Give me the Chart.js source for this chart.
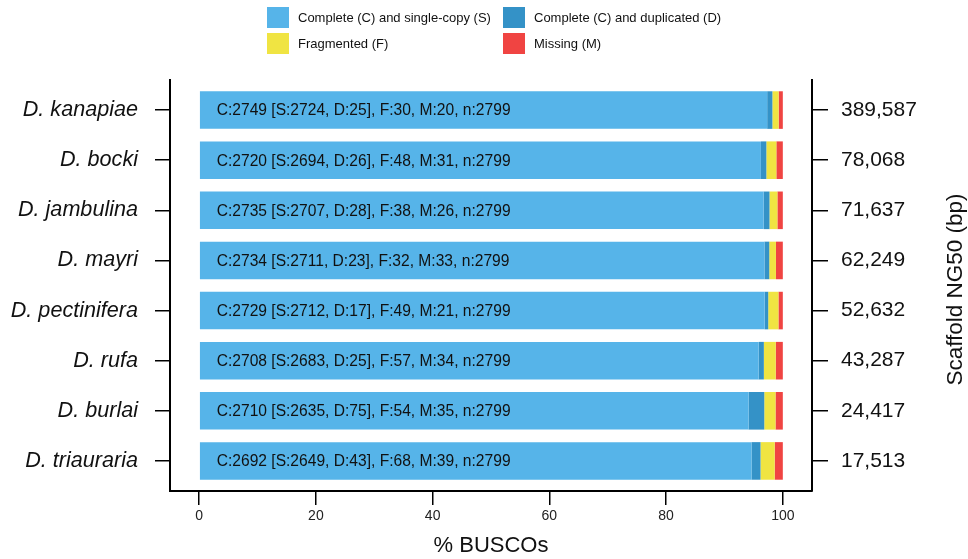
<!DOCTYPE html>
<html>
<head>
<meta charset="utf-8">
<script src="https://cdn.jsdelivr.net/npm/chart.js@4/dist/chart.umd.min.js"></script>
<style>
  html, body { margin: 0; padding: 0; background: #ffffff; }
  #wrap { width: 968px; height: 559px; position: relative; }
</style>
</head>
<body>
<div id="wrap"><canvas id="c" width="968" height="559"></canvas></div>
<script>
// ---- data ----
const species = ["D. kanapiae", "D. bocki", "D. jambulina", "D. mayri", "D. pectinifera", "D. rufa", "D. burlai", "D. triauraria"];
const ng50Labels = ["389,587", "78,068", "71,637", "62,249", "52,632", "43,287", "24,417", "17,513"];
const singleCopy = [2724, 2694, 2707, 2711, 2712, 2683, 2635, 2649];
const duplicated = [25, 26, 28, 23, 17, 25, 75, 43];
const fragmented = [30, 48, 38, 32, 49, 57, 54, 68];
const missing = [20, 31, 26, 33, 21, 34, 35, 39];
const totalBuscos = 2799;
const xTicks = [0, 20, 40, 60, 80, 100];
const seriesNames = ["Complete (C) and single-copy (S)", "Complete (C) and duplicated (D)", "Fragmented (F)", "Missing (M)"];
const seriesColors = ["#56B4E9", "#3492C7", "#F0E442", "#F04442"];
const xTitle = "% BUSCOs";
const rightTitle = "Scaffold NG50 (bp)";

const FONT = "'Liberation Sans', Arial, Helvetica, sans-serif";
const toPct = arr => arr.map((v, i) => ({ x: v / totalBuscos * 100, y: i + 1 }));
const seriesCounts = [singleCopy, duplicated, fragmented, missing];

const datasets = seriesCounts.map((arr, k) => ({
  label: seriesNames[k],
  data: toPct(arr),
  backgroundColor: seriesColors[k],
  borderWidth: 0,
  barPercentage: 0.75,
  categoryPercentage: 1.0,
  yAxisID: 'y'
}));

const rowTicks = scale => { scale.ticks = species.map((_, i) => ({ value: i + 1 })); };

const legendPlugin = {
  id: 'gridLegend',
  afterDraw(chart) {
    const ctx = chart.ctx;
    const cols = [267, 503];
    const rows = [7, 33];
    ctx.save();
    ctx.font = "13px " + FONT;
    ctx.textBaseline = 'middle';
    ctx.textAlign = 'left';
    seriesNames.forEach((name, k) => {
      const cx = cols[k % 2], cy = rows[Math.floor(k / 2)];
      ctx.fillStyle = seriesColors[k];
      ctx.fillRect(cx, cy, 22, 21);
      ctx.fillStyle = '#111';
      ctx.fillText(name, cx + 31, cy + 11);
    });
    ctx.restore();
  }
};

const barTextPlugin = {
  id: 'barText',
  afterDatasetsDraw(chart) {
    const ctx = chart.ctx;
    const meta = chart.getDatasetMeta(0);
    const xs = chart.scales.x;
    ctx.save();
    ctx.font = "15.6px " + FONT;
    ctx.fillStyle = '#111';
    ctx.textAlign = 'left';
    ctx.textBaseline = 'middle';
    species.forEach((_, i) => {
      const el = meta.data[i];
      const c = singleCopy[i] + duplicated[i];
      const txt = `C:${c} [S:${singleCopy[i]}, D:${duplicated[i]}], F:${fragmented[i]}, M:${missing[i]}, n:${totalBuscos}`;
      ctx.fillText(txt, xs.getPixelForValue(3), el.y + 1);
    });
    ctx.restore();
  }
};

const rightTitlePlugin = {
  id: 'rightTitle',
  afterDraw(chart) {
    const ctx = chart.ctx;
    const a = chart.chartArea;
    ctx.save();
    ctx.translate(956, (a.top + a.bottom) / 2 + 4);
    ctx.rotate(-Math.PI / 2);
    ctx.font = "22.5px " + FONT;
    ctx.fillStyle = '#111';
    ctx.textAlign = 'center';
    ctx.textBaseline = 'middle';
    ctx.fillText(rightTitle, 0, 0);
    ctx.restore();
  }
};

new Chart(document.getElementById('c'), {
  type: 'bar',
  data: { datasets },
  options: {
    indexAxis: 'y',
    responsive: false,
    devicePixelRatio: 1,
    animation: false,
    layout: { padding: { top: 80, left: 0, right: 0, bottom: 0 } },
    plugins: { legend: { display: false }, tooltip: { enabled: false } },
    scales: {
      x: {
        type: 'linear',
        stacked: true,
        min: -5, max: 105,
        offset: false,
        afterBuildTicks: s => { s.ticks = xTicks.map(v => ({ value: v })); },
        afterFit: s => { s.height = 68; },
        grid: { offset: false, drawOnChartArea: false, drawTicks: true, tickLength: 14, color: '#000', lineWidth: 1.5 },
        border: { display: true, color: '#000', width: 2 },
        ticks: { color: '#222', font: { family: FONT, size: 14 }, padding: 3, maxRotation: 0 },
        title: { display: true, text: xTitle, color: '#111', font: { family: FONT, size: 22, lineHeight: 1.2 }, padding: { top: 0, bottom: 0 } }
      },
      y: {
        type: 'linear',
        stacked: true,
        reverse: true,
        offset: false,
        min: 0.4, max: 8.6,
        afterBuildTicks: rowTicks,
        afterFit: s => { s.width = 170; },
        grid: { offset: false, drawOnChartArea: false, drawTicks: true, tickLength: 15, color: '#000', lineWidth: 1.5 },
        border: { display: true, color: '#000', width: 2 },
        ticks: {
          color: '#111', padding: 17,
          font: { family: FONT, size: 21.6, style: 'italic' },
          callback: v => species[Math.round(v) - 1]
        }
      },
      y2: {
        type: 'linear',
        position: 'right',
        reverse: true,
        offset: false,
        min: 0.4, max: 8.6,
        afterBuildTicks: rowTicks,
        afterFit: s => { s.width = 156; },
        grid: { offset: false, drawOnChartArea: false, drawTicks: true, tickLength: 16, color: '#000', lineWidth: 1.5 },
        border: { display: true, color: '#000', width: 2 },
        ticks: {
          color: '#111', padding: 13,
          font: { family: FONT, size: 21 },
          callback: v => ng50Labels[Math.round(v) - 1]
        }
      }
    }
  },
  plugins: [legendPlugin, barTextPlugin, rightTitlePlugin]
});
</script>
</body>
</html>
